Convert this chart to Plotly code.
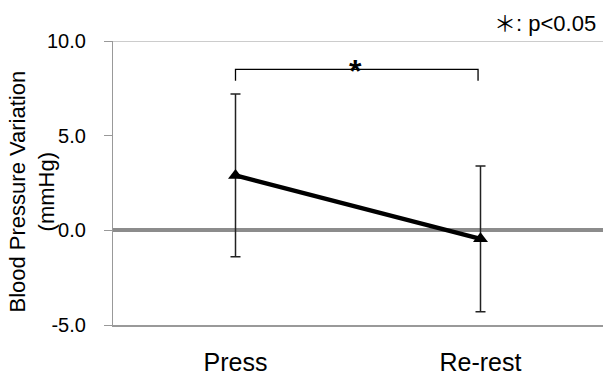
import plotly.graph_objects as go

categories = ["Press", "Re-rest"]
means = [2.9, -0.45]
sds = [4.3, 3.85]
y_ticks = [-5.0, 0.0, 5.0, 10.0]
y_tick_labels = ["-5.0", "0.0", "5.0", "10.0"]
bracket_y = 8.5
bracket_drop = 7.9

fig = go.Figure()
fig.add_trace(go.Scatter(
    x=categories, y=means, mode="lines+markers",
    line=dict(color="black", width=4.5),
    marker=dict(symbol="triangle-up", size=13, color="black"),
    error_y=dict(type="data", array=sds, visible=True, color="#222", thickness=1.5, width=5),
    showlegend=False,
))

font = "Liberation Sans, Arial, sans-serif"
fig.update_layout(
    width=603, height=378,
    margin=dict(l=113, r=0, t=41, b=53),
    plot_bgcolor="white", paper_bgcolor="white",
    font=dict(family=font, color="black"),
    xaxis=dict(type="category", range=[-0.5, 1.5], showgrid=False, showline=True,
               linecolor="#999", linewidth=1.5, ticks="", tickfont=dict(size=25),
               ticklabelstandoff=14, zeroline=False),
    yaxis=dict(range=[-5, 10], tickvals=y_ticks, ticktext=y_tick_labels, showgrid=False,
               showline=True, linecolor="#999", linewidth=1.2, ticks="outside", ticklen=8,
               tickcolor="#999", tickfont=dict(size=20), ticklabelstandoff=14,
               zeroline=True, zerolinecolor="#8c8c8c", zerolinewidth=3.5),
)

# top border at 10.0
fig.add_shape(type="line", xref="paper", x0=0, x1=1, yref="y", y0=10, y1=10,
              line=dict(color="#999", width=1.2), layer="below")

# significance bracket
fig.add_shape(type="path", xref="x", yref="y",
              path=f"M 0,{bracket_drop} L 0,{bracket_y} L 0.99,{bracket_y} L 0.99,{bracket_drop}",
              line=dict(color="black", width=1.3))
fig.add_annotation(x=0.49, y=bracket_y, xref="x", yref="y", text="<b>*</b>", showarrow=False,
                   font=dict(size=32, family="Liberation Sans"), yanchor="middle", yshift=-2)

# legend note
fig.add_annotation(x=(598 - 113) / 490, y=(378 - 53 - 24) / 284, xref="paper", yref="paper",
                   text="＊: p<0.05", showarrow=False, xanchor="right", yanchor="middle",
                   font=dict(size=22, family="Liberation Sans, Noto Sans CJK JP"))

# y-axis title
fig.add_annotation(x=(32 - 113) / 490, y=0.47, xref="paper", yref="paper",
                   text="Blood Pressure Variation<br>(mmHg)", textangle=-90, showarrow=False,
                   font=dict(size=22, family=font), xanchor="center", yanchor="middle")

fig.write_html("out.html")
